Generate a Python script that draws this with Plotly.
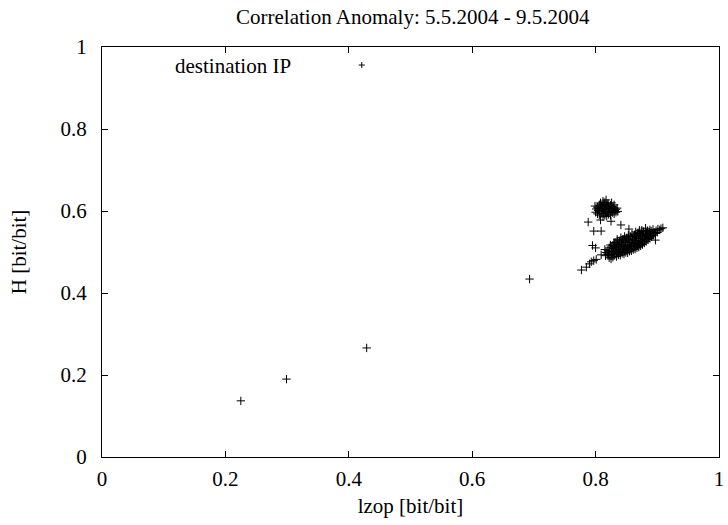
import plotly.graph_objects as go

# Main (lower) cluster
main_lzop = [0.816, 0.817, 0.815,
             0.822, 0.821, 0.823, 0.822, 0.824,
             0.828, 0.829, 0.827, 0.829, 0.828, 0.830,
             0.834, 0.835, 0.833, 0.834, 0.836, 0.833, 0.835,
             0.840, 0.841, 0.839, 0.840, 0.842, 0.839, 0.841,
             0.846, 0.847, 0.845, 0.846, 0.848, 0.845, 0.847,
             0.852, 0.853, 0.851, 0.852, 0.854, 0.851, 0.853,
             0.858, 0.859, 0.857, 0.858, 0.860, 0.857, 0.859,
             0.864, 0.865, 0.863, 0.864, 0.866, 0.863, 0.865,
             0.870, 0.871, 0.869, 0.870, 0.872, 0.869, 0.871,
             0.876, 0.877, 0.875, 0.876, 0.878, 0.875,
             0.882, 0.883, 0.881, 0.882, 0.884, 0.881,
             0.888, 0.889, 0.887, 0.888,
             0.894, 0.895, 0.893,
             0.900, 0.901,
             0.906, 0.909,
             0.819, 0.820, 0.825, 0.826, 0.825, 0.831, 0.832, 0.831, 0.830,
             0.837, 0.838, 0.837, 0.836, 0.843, 0.844, 0.843, 0.842, 0.844,
             0.849, 0.850, 0.849, 0.848, 0.850, 0.855, 0.856, 0.855, 0.854, 0.856,
             0.861, 0.862, 0.861, 0.860, 0.862, 0.867, 0.868, 0.867, 0.866, 0.868,
             0.873, 0.874, 0.873, 0.872, 0.874, 0.879, 0.880, 0.879, 0.878,
             0.885, 0.886, 0.885, 0.884, 0.891, 0.892, 0.890, 0.897, 0.898]
main_H = [0.491, 0.499, 0.506,
          0.486, 0.494, 0.502, 0.510, 0.517,
          0.487, 0.494, 0.501, 0.509, 0.516, 0.523,
          0.489, 0.497, 0.503, 0.510, 0.518, 0.524, 0.531,
          0.492, 0.499, 0.506, 0.514, 0.520, 0.527, 0.535,
          0.495, 0.502, 0.509, 0.516, 0.523, 0.531, 0.538,
          0.498, 0.506, 0.512, 0.519, 0.527, 0.534, 0.541,
          0.503, 0.509, 0.516, 0.523, 0.530, 0.537, 0.544,
          0.507, 0.514, 0.521, 0.528, 0.535, 0.542, 0.549,
          0.512, 0.519, 0.526, 0.533, 0.540, 0.547, 0.553,
          0.518, 0.525, 0.532, 0.539, 0.546, 0.553,
          0.526, 0.532, 0.539, 0.546, 0.552, 0.558,
          0.533, 0.540, 0.547, 0.554,
          0.541, 0.548, 0.555,
          0.548, 0.556,
          0.557, 0.559,
          0.495, 0.503, 0.491, 0.498, 0.512, 0.493, 0.505, 0.513, 0.520,
          0.493, 0.501, 0.514, 0.527, 0.497, 0.503, 0.517, 0.524, 0.531,
          0.499, 0.506, 0.513, 0.527, 0.534, 0.502, 0.509, 0.516, 0.531, 0.538,
          0.506, 0.513, 0.519, 0.532, 0.539, 0.510, 0.517, 0.524, 0.538, 0.545,
          0.515, 0.522, 0.529, 0.543, 0.550, 0.522, 0.529, 0.536, 0.550,
          0.530, 0.536, 0.543, 0.550, 0.537, 0.544, 0.551, 0.545, 0.552]

# Upper cluster
upper_lzop = [0.800, 0.801, 0.799,
              0.806, 0.807, 0.805, 0.806, 0.808,
              0.812, 0.813, 0.811, 0.812, 0.814, 0.812,
              0.818, 0.819, 0.817, 0.818, 0.820, 0.817,
              0.824, 0.825, 0.823, 0.824, 0.826,
              0.830, 0.831, 0.829, 0.830,
              0.836, 0.835,
              0.803, 0.804, 0.803, 0.809, 0.810, 0.809, 0.808,
              0.815, 0.816, 0.815, 0.814, 0.815, 0.821, 0.822, 0.821, 0.820,
              0.827, 0.828, 0.827, 0.833, 0.833]
upper_H = [0.597, 0.605, 0.612,
           0.590, 0.598, 0.606, 0.614, 0.620,
           0.586, 0.594, 0.602, 0.610, 0.617, 0.624,
           0.587, 0.596, 0.604, 0.612, 0.619, 0.627,
           0.590, 0.598, 0.606, 0.614, 0.620,
           0.593, 0.601, 0.608, 0.615,
           0.599, 0.607,
           0.593, 0.601, 0.609, 0.594, 0.602, 0.610, 0.617,
           0.590, 0.598, 0.606, 0.614, 0.621, 0.592, 0.600, 0.609, 0.616,
           0.596, 0.604, 0.611, 0.597, 0.604]

# Scattered points
other_lzop = [0.225, 0.299, 0.429, 0.693,
              0.777, 0.785, 0.790, 0.793, 0.797, 0.801,
              0.800, 0.795, 0.809, 0.825,
              0.788, 0.797, 0.809, 0.808, 0.825, 0.841, 0.854, 0.897, 0.904]
other_H = [0.137, 0.190, 0.266, 0.434,
           0.456, 0.463, 0.471, 0.476, 0.479, 0.482,
           0.510, 0.516, 0.493, 0.483,
           0.573, 0.551, 0.551, 0.578, 0.575, 0.566, 0.556, 0.529, 0.554]

x_ticks = [0, 0.2, 0.4, 0.6, 0.8, 1]
y_ticks = [0, 0.2, 0.4, 0.6, 0.8, 1]
x_tick_text = ["0", "0.2", "0.4", "0.6", "0.8", "1"]
y_tick_text = ["0", "0.2", "0.4", "0.6", "0.8", "1"]

FONT = "Liberation Serif"
FS = 21

fig = go.Figure()
fig.add_trace(go.Scatter(
    x=main_lzop + upper_lzop + other_lzop,
    y=main_H + upper_H + other_H,
    mode="markers",
    marker=dict(symbol="cross-thin", size=6, line=dict(width=1, color="black"), color="black"),
    showlegend=False,
    hoverinfo="x+y",
))

axis_common = dict(
    range=[0, 1], showline=True, linecolor="black", linewidth=1, mirror="ticks",
    ticks="inside", ticklen=6, tickwidth=1, tickcolor="black",
    showgrid=False, zeroline=False, ticklabeloverflow="allow",
    tickfont=dict(family=FONT, size=FS, color="black"),
)

fig.update_xaxes(**axis_common, tickvals=x_ticks, ticktext=x_tick_text, ticklabelstandoff=3,
                 title=dict(text="lzop [bit/bit]", font=dict(family=FONT, size=FS, color="black"), standoff=8))
fig.update_yaxes(**axis_common, tickvals=y_ticks, ticktext=y_tick_text, ticklabelstandoff=10,
                 title=dict(text="H [bit/bit]", font=dict(family=FONT, size=FS, color="black"), standoff=28))

fig.update_layout(
    width=728, height=525,
    margin=dict(l=102, r=4, t=47, b=68),
    paper_bgcolor="white", plot_bgcolor="white",
    title=dict(text="Correlation Anomaly: 5.5.2004 - 9.5.2004",
               x=0.567, xanchor="center",
               y=1 - 17 / 525, yanchor="middle",
               font=dict(family=FONT, size=FS, color="black")),
)

fig.add_annotation(text="destination IP", xref="paper", yref="paper",
                   x=0.31, y=0.954, xanchor="right", yanchor="middle",
                   showarrow=False, font=dict(family=FONT, size=FS, color="black"))
for dx0, dy0, dx1, dy1 in [(-3, 0, 3, 0), (0, -3, 0, 3)]:
    fig.add_shape(type="line", xref="paper", yref="paper",
                  xsizemode="pixel", ysizemode="pixel",
                  xanchor=0.421, yanchor=0.956,
                  x0=dx0, x1=dx1, y0=dy0, y1=dy1,
                  line=dict(color="black", width=1))

fig.write_html("out.html")
